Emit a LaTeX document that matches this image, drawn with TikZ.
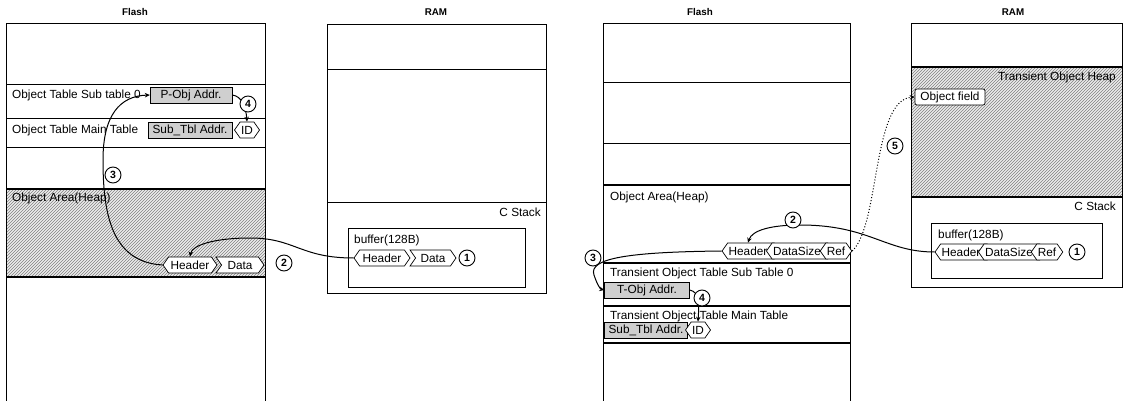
\documentclass[tikz,border=0pt]{standalone}
\usepackage{fontspec}
\setmainfont{Liberation Sans}
\usetikzlibrary{shapes.symbols,patterns,arrows.meta}
\begin{document}
\begin{tikzpicture}[x=1pt,y=-1pt,
  every node/.style={font=\fontsize{11.8}{14}\selectfont, inner sep=1pt},
  mem/.style={draw, line width=0.8pt},
  memthick/.style={draw, line width=1.1pt},
  title/.style={font=\bfseries\fontsize{9.8}{11}\selectfont},
  lbl/.style={anchor=west},
  gbox/.style={draw, fill=gray!38, minimum height=16pt, inner sep=1pt},
  fld/.style={draw, fill=white, shape=signal, minimum height=16pt, inner xsep=1pt, inner ysep=1pt, signal pointer angle=110, line width=0.7pt},
  num/.style={draw, circle, fill=white, inner sep=0pt, minimum size=16pt, line width=0.9pt, font=\bfseries\fontsize{10.5}{12}\selectfont},
  conn/.style={line width=1pt, -{Stealth[length=5pt,width=4.5pt]}},
  hatch/.style={pattern=north east lines, pattern color=black!50},
]
\useasboundingbox (0,0) rectangle (1125,401);

% ---------- Left Flash ----------
\node[title] (tLF) at (135,12) {Flash};
\fill[gray!15] (6,189) rectangle (265,277);
\fill[hatch] (6,189) rectangle (265,277);
\draw[mem] (6,401) -- (6,23) -- (265,23) -- (265,401);
\draw[mem] (6,84) -- (265,84);
\draw[mem] (6,118) -- (265,118);
\draw[mem] (6,147) -- (265,147);
\draw[memthick] (6,189) -- (265,189);
\draw[memthick] (6,277) -- (265,277);
\node[lbl] (lSubLbl) at (11,95) {Object Table Sub table 0};
\node[lbl] (lMainLbl) at (11,130) {Object Table Main Table};
\node[lbl] (lAreaLbl) at (11,198) {Object Area(Heap)};
\node[gbox, minimum width=82pt] (lPobj) at (191,95) {P-Obj Addr.};
\node[gbox, minimum width=84pt] (lSubT) at (190,130) {Sub\_Tbl Addr.};
\node[fld, signal to=west and east, minimum width=22pt] (lID) at (247,130) {ID};
\node[fld, signal to=west and east, minimum width=54pt] (lHdr) at (190,265) {Header};
\node[fld, signal from=west, signal to=east, minimum width=48pt] (lData) at (240,265) {Data};

% ---------- Left RAM ----------
\node[title] (tLR) at (436,12) {RAM};
\draw[mem] (327,24) rectangle (546,293);
\draw[mem] (327,69) -- (546,69);
\draw[mem] (327,202) -- (546,202);
\node[anchor=east] (lCst) at (542,212) {C Stack};
\draw[mem] (348,228) rectangle (525,287);
\node[lbl] (lBuf) at (353,240) {buffer(128B)};
\node[fld, signal to=west and east, minimum width=56pt] (rHdrL) at (382,258) {Header};
\node[fld, signal from=west, signal to=east, minimum width=46pt] (rDataL) at (433,258) {Data};

% ---------- Right Flash ----------
\node[title] (tRF) at (700,12) {Flash};
\draw[mem] (603,401) -- (603,23) -- (850,23) -- (850,401);
\draw[mem] (603,82) -- (850,82);
\draw[mem] (603,143) -- (850,143);
\draw[memthick] (603,185) -- (850,185);
\draw[memthick] (603,263) -- (850,263);
\draw[memthick] (603,306) -- (850,306);
\draw[memthick] (603,343) -- (850,343);
\node[lbl] (rAreaLbl) at (609,197) {Object Area(Heap)};
\node[fld, signal to=west, signal from=east, minimum width=50pt] (fHdr) at (748,251) {Header};
\node[fld, signal to=west, signal from=east, minimum width=54pt] (fDS) at (797,251) {DataSize};
\node[fld, signal to=west and east, minimum width=28pt] (fRef) at (836,251) {Ref};
\node[lbl] (rSubLbl) at (609,273) {Transient Object Table Sub Table 0};
\node[gbox, minimum width=85pt] (fTobj) at (647,290) {T-Obj Addr.};
\node[lbl] (rMainLbl) at (609,316) {Transient Object Table Main Table};
\node[gbox, minimum width=83pt] (fSubT) at (646,330) {Sub\_Tbl Addr.};
\node[fld, signal to=west and east, minimum width=20pt] (fID) at (698,330) {ID};

% ---------- Right RAM ----------
\node[title] (tRR) at (1013,12) {RAM};
\fill[gray!15] (911,67) rectangle (1122,197);
\fill[hatch] (911,67) rectangle (1122,197);
\draw[mem] (911,23) rectangle (1122,287);
\draw[memthick] (911,67) -- (1122,67);
\draw[memthick] (911,197) -- (1122,197);
\node[anchor=east] (rHeapLbl) at (1117,77) {Transient Object Heap};
\node[draw, rounded corners=2pt, fill=white, minimum height=16pt, minimum width=70pt, inner sep=1pt, line width=0.7pt] (oField) at (950,97) {Object field};
\node[anchor=east] (rCst) at (1117,206) {C Stack};
\draw[mem] (931,223) rectangle (1102,278);
\node[lbl] (rBuf) at (937,235) {buffer(128B)};
\node[fld, signal to=west, signal from=east, minimum width=52pt] (rrHdr) at (961,252) {Header};
\node[fld, signal to=west, signal from=east, minimum width=50pt] (rrDS) at (1009,252) {DataSize};
\node[fld, signal to=west and east, minimum width=30pt] (rrRef) at (1047,252) {Ref};

% ---------- Connectors ----------
\draw[conn] (rHdrL.west) .. controls (300,258) and (295,238) .. (250,238) .. controls (215,238) and (192,245) .. (lHdr.north);
\draw[conn] (lHdr.west) .. controls (112,262) and (103,215) .. (103,160) .. controls (103,115) and (120,96) .. (lPobj.west);
\draw[conn] (lPobj.east) .. controls (242,96) and (246,108) .. (lID.north);

\draw[conn] (rrHdr.west) .. controls (885,252) and (870,225) .. (800,225) .. controls (772,225) and (752,230) .. (fHdr.north);
\draw[conn] (fHdr.west) .. controls (630,252) and (588,258) .. (594,275) .. controls (597,284) and (600,289) .. (fTobj.west);
\draw[conn] (fTobj.east) .. controls (700,292) and (699,305) .. (fID.north);
\draw[conn, dotted] (fRef.east) .. controls (880,225) and (872,100) .. (oField.west);

% ---------- Step numbers ----------
\node[num] (lc1) at (467,258) {1};
\node[num] (lc2) at (284,263) {2};
\node[num] (lc3) at (113,175) {3};
\node[num] (lc4) at (248,104) {4};
\node[num] (rc1) at (1077,252) {1};
\node[num] (rc2) at (793,220) {2};
\node[num] (rc3) at (593,258) {3};
\node[num] (rc4) at (702,298) {4};
\node[num] (rc5) at (895,146) {5};
\end{tikzpicture}
\end{document}
